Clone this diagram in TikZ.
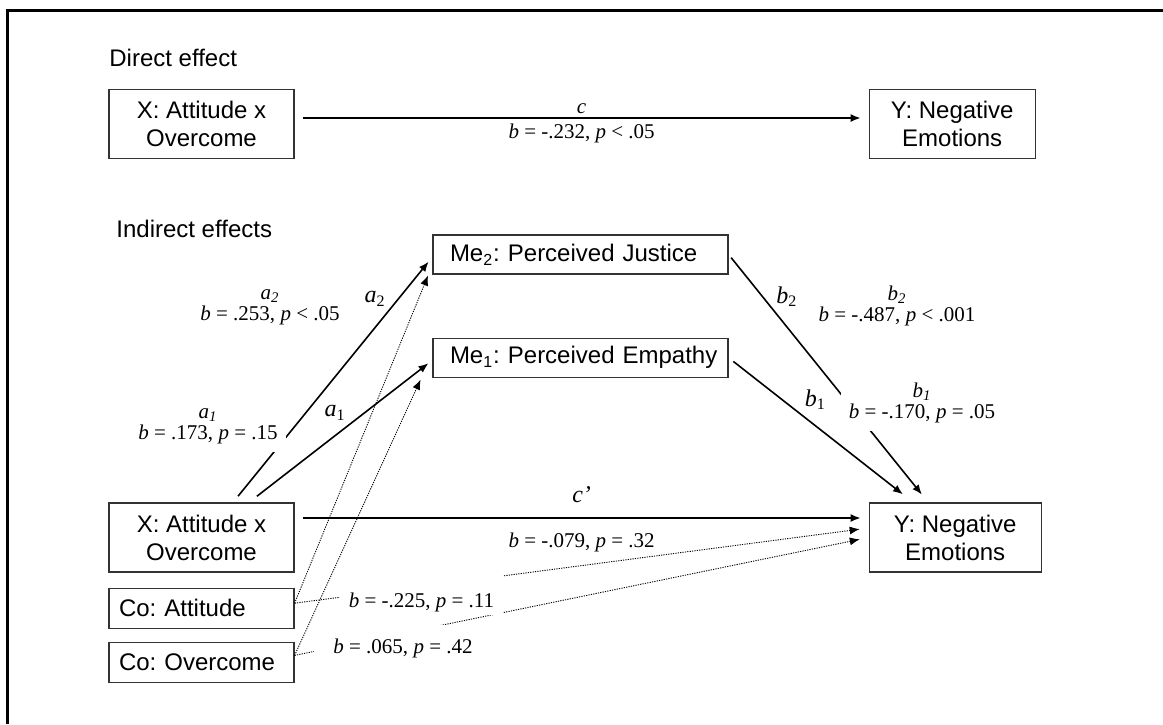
\documentclass[tikz,border=0pt]{standalone}
\usepackage{fontspec}
\setmainfont{Liberation Serif}
\setsansfont{Liberation Sans}
\usetikzlibrary{positioning, arrows.meta}
\frenchspacing

\begin{document}
\begin{tikzpicture}[
    x=0.5pt, y=-0.5pt,
    varbox/.style={rectangle, draw=black!80, line width=0.6pt, font=\sffamily\fontsize{12}{14}\selectfont, align=center, minimum width=92.5pt, minimum height=34.5pt, inner sep=0pt},
    cobox/.style={varbox, minimum height=20pt, text width=82.5pt, inner xsep=5pt, align=left},
    mebox/.style={varbox, minimum width=147.5pt, minimum height=19.5pt, text width=145.5pt, inner xsep=1pt, align=left, execute at begin node={\hspace*{7.5pt}}},
    heading/.style={font=\sffamily\fontsize{12}{14}\selectfont, inner sep=0pt},
    est/.style={font=\fontsize{10.5}{10.5}\selectfont, align=center, inner sep=4pt},
    cover/.style={est, fill=white},
    pathlab/.style={font=\fontsize{12}{14}\selectfont, inner sep=2pt},
    effect/.style={line width=0.8pt, -{Latex[length=5pt, width=4pt]}},
    control/.style={effect, line width=0.45pt, dash pattern=on 0.6pt off 0.6pt},
    frame/.style={line width=1.5pt}
]
    \useasboundingbox (0,0) rectangle (1163,724);
    \draw[frame] (7.5,724) -- (7.5,10) -- (1163,10);

    % direct effect
    \node[heading, anchor=base west] (direct) at (109,66.5) {Direct effect};
    \node[varbox] (xtop) at (201.5,124) {X: Attitude x\\Overcome};
    \node[varbox, minimum width=83pt, right=287pt of xtop] (ytop) {Y: Negative\\Emotions};

    % indirect effects
    \node[heading, anchor=base west] (indirect) at (116,237) {Indirect effects};
    \node[mebox] (me2) at (580.5,254.5) {Me\textsubscript{2}: Perceived Justice};
    \node[mebox, below=31.5pt of me2] (me1) {Me\textsubscript{1}: Perceived Empathy};
    \node[varbox] (xbot) at (201.5,537.5) {X: Attitude x\\Overcome};
    \node[cobox, below=7.5pt of xbot] (coatt) {Co: Attitude};
    \node[cobox, below=6.5pt of coatt] (coover) {Co: Overcome};
    \node[varbox, minimum width=86pt, right=287pt of xbot] (ybot) {Y: Negative\\Emotions};

    % Arrows
    \draw[effect, shorten <=4pt, shorten >=4pt] ([yshift=3pt]xtop.east) -- node[est, above, inner sep=1.5pt] (c) {\textit{c}} node[est, below, inner sep=2.5pt] (cb) {\textit{b} = -.232, \textit{p} < .05} ([yshift=3pt]ytop.west);
    \draw[effect, shorten <=4pt, shorten >=3pt] ([xshift=15.75pt]xbot.north) -- node[pathlab, pos=.83, left=4pt] (a2) {\textit{a}\textsubscript{2}} ([yshift=-1.25pt]me2.west);
    \draw[effect, shorten <=5pt, shorten >=2.5pt] ([xshift=23.75pt]xbot.north) -- node[pathlab, pos=.63, left=7pt] (a1) {\textit{a}\textsubscript{1}} ([yshift=-1.25pt]me1.west);
    \draw[effect, shorten <=2pt, shorten >=5pt] (me2.east) -- node[pathlab, pos=.17, right=4.5pt] (b2) {\textit{b}\textsubscript{2}} ([xshift=-13.5pt]ybot.north);
    \draw[effect, shorten <=3pt, shorten >=6.5pt] (me1.east) -- node[pathlab, pos=.47, above=5.5pt] (b1) {\textit{b}\textsubscript{1}} ([xshift=-21pt]ybot.north);
    \draw[effect, shorten <=4pt, shorten >=4pt] ([yshift=9.75pt]xbot.east) -- node[pathlab, above=5pt] (cp) {\textit{c’}} node[est, below=5pt, inner sep=2pt] (cpb) {\textit{b} = -.079, \textit{p} = .32} ([yshift=9.75pt]ybot.west);

    % covariates
    \draw[control, shorten >=0.5pt] ([yshift=2.5pt]coatt.east) -- ([xshift=-2pt]me2.south west);
    \draw[control, shorten >=1pt] ([yshift=3.5pt]coover.east) -- ([xshift=-5.5pt]me1.south west);
    \draw[control, shorten >=4.5pt] ([yshift=2.5pt]coatt.east) -- ([yshift=4.75pt]ybot.west);
    \draw[control, shorten >=4.5pt] ([yshift=3.5pt]coover.east) -- (ybot.west);

    % estimates
    \node[est] (a2est) at (270,307.5) {\textit{a\textsubscript{2}}\\\textit{b} = .253, \textit{p} < .05};
    \node[cover] (a1est) at (208,426) {\textit{a\textsubscript{1}}\\\textit{b} = .173, \textit{p} = .15};
    \node[est] (b2est) at (897,306) {\textit{b\textsubscript{2}}\\\textit{b} = -.487, \textit{p} < .001};
    \node[cover] (b1est) at (922,402.5) {\textit{b\textsubscript{1}}\\\textit{b} = -.170, \textit{p} = .05};
    \node[cover, inner xsep=4.5pt, inner ysep=2pt, text height=14.5pt, anchor=base] (attest) at (421.5,607) {\textit{b} = -.225, \textit{p} = .11};
    \node[cover, inner xsep=9.5pt, inner ysep=2pt, text height=12pt, anchor=base] (overest) at (403,653) {\textit{b} = .065, \textit{p} = .42};
\end{tikzpicture}
\end{document}
